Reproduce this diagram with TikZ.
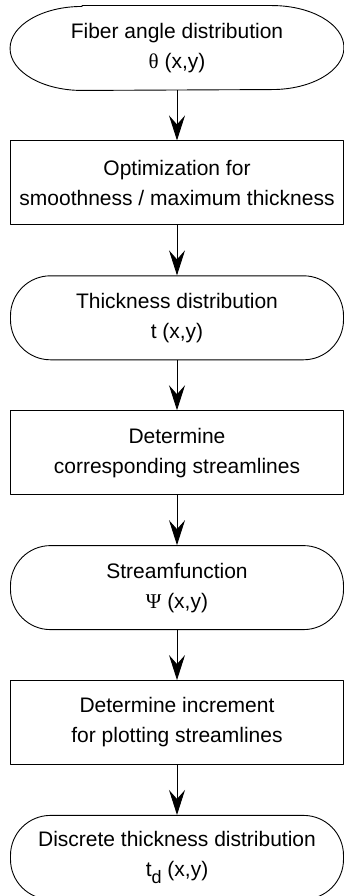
\documentclass[tikz,border=0pt]{standalone}
\usepackage{fontspec}
\setmainfont{Liberation Sans}
\newfontfamily\grk{Liberation Serif}
\usetikzlibrary{arrows.meta,positioning}
\newcommand{\lowd}{\raisebox{-7pt}{\fontsize{18}{18}\selectfont d}}
\begin{document}
\begin{tikzpicture}[x=1pt,y=1pt,line width=0.9pt,line join=round,
    font=\fontsize{21}{30}\selectfont,>={Stealth[length=25pt,width=16pt,inset=9pt]},
    node distance=50pt,
    every node/.style={minimum width=333pt,minimum height=84pt,inner sep=0pt,align=center},
    procbox/.style={draw,rectangle},
    lowtext/.style={execute at begin node=\rule{0pt}{24pt}},
    termbox/.style={draw,rectangle,rounded corners=40pt,lowtext}]
    \useasboundingbox (0,0) rectangle (344,-896);
    \node[lowtext] (theta) at (177,-48) {Fiber angle distribution\\{\grk θ} (x,y)};
    \draw ([xshift=72pt]theta.north west) -- ([xshift=-72pt]theta.north east)
        arc[start angle=90,end angle=-90,x radius=72pt,y radius=42pt]
        -- ([xshift=72pt]theta.south west)
        arc[start angle=270,end angle=90,x radius=72pt,y radius=42pt] -- cycle;
    \node[procbox,below=of theta] (optim) {Optimization for\\smoothness / maximum thickness};
    \node[termbox,below=of optim] (thick) {Thickness distribution\\t (x,y)};
    \node[procbox,below=of thick] (stream) {Determine\\corresponding streamlines};
    \node[termbox,below=of stream] (psi) {Streamfunction\\{\grk Ψ} (x,y)};
    \node[procbox,below=of psi] (incr) {Determine increment\\for plotting streamlines};
    \node[termbox,below=of incr] (disc) {Discrete thickness distribution\\t\lowd\ (x,y)};
    \foreach \a/\b in {theta/optim,optim/thick,thick/stream,stream/psi,psi/incr,incr/disc}
        \draw[->] (\a) -- (\b);
\end{tikzpicture}
\end{document}
